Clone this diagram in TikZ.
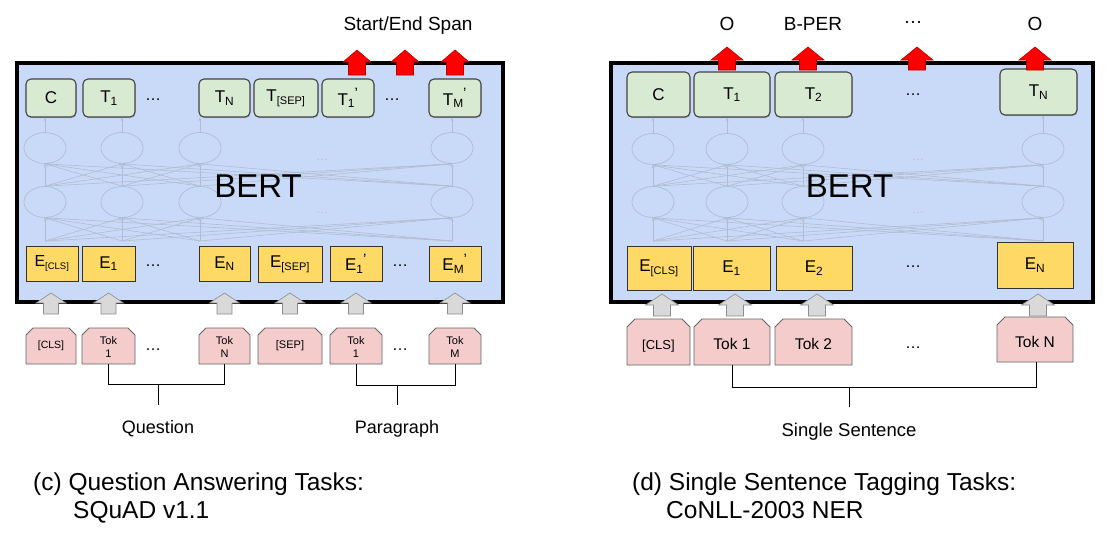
\documentclass[tikz,border=0pt]{standalone}
\usepackage{fontspec}
\setmainfont{Liberation Sans}
\usetikzlibrary{arrows.meta,shadows,shapes.geometric,calc}
\definecolor{bertblue}{HTML}{C9DAF8}
\definecolor{tgreen}{HTML}{D9EAD3}
\definecolor{tborder}{HTML}{434343}
\definecolor{eyellow}{HTML}{FFD966}
\definecolor{eborder}{HTML}{333333}
\definecolor{tokpink}{HTML}{F4CCCC}
\definecolor{tokborder}{HTML}{666666}
\definecolor{netgray}{HTML}{B0BCD3}
\definecolor{arrgray}{HTML}{D9D9D9}
\definecolor{arrgrayb}{HTML}{8C8C8C}
\definecolor{redarrb}{HTML}{B00000}
\newcommand\fsz[1]{\fontsize{#1}{#1}\selectfont}
\newcommand\sbx[2]{\textsubscript{\fsz{#1}#2}}
\newcommand\prm{\kern-0.5pt\textsuperscript{\fsz{15}’}}
\newcommand\tokshape[5]{%
  \filldraw[tokstyle] ({#1-#3/2},{#2+#4/2}) -- ({#1-#3/2},{#2-#4/2+#5}) -- ({#1-#3/2+#5},{#2-#4/2}) -- ({#1+#3/2-#5},{#2-#4/2}) -- ({#1+#3/2},{#2-#4/2+#5}) -- ({#1+#3/2},{#2+#4/2}) -- cycle;}
\begin{document}
\begin{tikzpicture}[x=1pt,y=-1pt,
  bertbox/.style={draw=black, line width=3.5pt, fill=bertblue, inner sep=0},
  bertlabel/.style={font=\fsz{33}, inner sep=0, anchor=base},
  tbox/.style={draw=tborder, fill=tgreen, line width=1.1pt, rounded corners=5pt, inner sep=0, font=\fsz{17},
    drop shadow={shadow xshift=0.6pt, shadow yshift=-1.2pt, fill=black!45}},
  ebox/.style={draw=eborder, fill=eyellow, line width=0.9pt, inner sep=0, font=\fsz{17}},
  tokstyle/.style={fill=tokpink, draw=tokborder, line width=0.9pt},
  toklabel/.style={inner sep=0, align=center},
  neuron/.style={ellipse, draw=netgray, line width=0.7pt, minimum width=42, minimum height=31, inner sep=0},
  net/.style={draw=netgray, line width=0.6pt, -{Stealth[length=3.5pt,width=3pt]}},
  netdots/.style={font=\fsz{12}, text=netgray, inner sep=0},
  dots/.style={font=\fsz{16}, inner sep=0},
  lbl/.style={font=\fsz{18.5}, inner sep=0, anchor=base},
  caption/.style={font=\fsz{24.5}, inner sep=0, anchor=base west},
  bracket/.style={draw=black, line width=0.8pt},
  redup/.pic={\filldraw[fill=red, draw=redarrb, line width=0.6pt] (0,0) -- (14,12) -- (8.5,12) -- (8.5,25) -- (-8.5,25) -- (-8.5,12) -- (-14,12) -- cycle;},
  redupR/.pic={\filldraw[fill=red, draw=redarrb, line width=0.6pt] (0,0) -- (16,13) -- (8.5,13) -- (8.5,23) -- (-8.5,23) -- (-8.5,13) -- (-16,13) -- cycle;},
  grayup/.pic={\filldraw[fill=arrgray, draw=arrgrayb, line width=0.6pt] (0,0) -- (15,10) -- (7.5,10) -- (7.5,21) -- (-7.5,21) -- (-7.5,10) -- (-15,10) -- cycle;},
  grayupR/.pic={\filldraw[fill=arrgray, draw=arrgrayb, line width=0.6pt] (0,0) -- (16.5,11) -- (8.5,11) -- (8.5,22) -- (-8.5,22) -- (-8.5,11) -- (-16.5,11) -- cycle;}
]
\fill[white] (0,0) rectangle (1117,550);
\useasboundingbox (0,0) rectangle (1117,550);

%% ================= LEFT PANEL (c) =================
\node[bertbox, minimum width=486, minimum height=239] (qbert) at (260,182.5) {};

% network
\foreach \i/\x in {1/45,2/122,3/200,4/452} {
  \node[neuron] (qu\i) at (\x,148) {};
  \node[neuron] (ql\i) at (\x,202) {};
  \coordinate (qb\i) at (\x,241);
}
\foreach \i in {1,...,4} {
  \foreach \j in {1,...,4} {
    \draw[net] (qb\i) -- (ql\j.south);
    \draw[net] (ql\i.north) -- (qu\j.south);
  }
}
\node[netdots] (qnd1) at (322,160) {…};
\node[netdots] (qnd2) at (322,213) {…};
\node[bertlabel] (qbertl) at (258,197) {BERT};

% T boxes
\node[tbox, minimum width=50, minimum height=38] (qC) at (51,98) {C};
\node[tbox, minimum width=52, minimum height=38] (qT1) at (109,98) {T\textsubscript{1}};
\node[dots] (qTd1) at (153,100) {…};
\node[tbox, minimum width=51, minimum height=38] (qTN) at (224.5,98) {T\textsubscript{N}};
\node[tbox, minimum width=64, minimum height=38] (qTsep) at (286,98) {T\sbx{11}{[SEP]}};
\node[tbox, minimum width=52, minimum height=38] (qT1p) at (348,98) {T\textsubscript{1}\prm};
\node[dots] (qTd2) at (392,100) {…};
\node[tbox, minimum width=52, minimum height=38] (qTMp) at (455,98) {T\textsubscript{M}\prm};

\draw[net] (qu1.north) -- (qu1.north |- qC.south);
\draw[net] (qu2.north) -- (qu2.north |- qT1.south);
\draw[net] (qu3.north) -- (qu3.north |- qTN.south);
\draw[net] (qu4.north) -- (qu4.north |- qTMp.south);

% E boxes
\node[ebox, minimum width=52, minimum height=35] (qEcls) at (52,263.5) {\fsz{16}E\sbx{9.5}{[CLS]}};
\node[ebox, minimum width=53, minimum height=35] (qE1) at (108.5,263.5) {E\textsubscript{1}};
\node[dots] (qEd1) at (153,266) {…};
\node[ebox, minimum width=51, minimum height=35] (qEN) at (224.5,263.5) {E\textsubscript{N}};
\node[ebox, minimum width=64, minimum height=36] (qEsep) at (290,264) {E\sbx{11}{[SEP]}};
\node[ebox, minimum width=52, minimum height=35] (qE1p) at (356,263.5) {E\textsubscript{1}\prm};
\node[dots] (qEd2) at (400,266) {…};
\node[ebox, minimum width=52, minimum height=35] (qEMp) at (455,263.5) {E\textsubscript{M}\prm};

% red output arrows
\pic at (357,50) {redup};
\pic at (405,50) {redup};
\pic at (455,50) {redup};
\node[lbl, font=\fsz{19}] (qspan) at (408,30) {Start/End Span};

% token boxes
\tokshape{51}{346}{50}{36}{7}
\node[toklabel, font=\fsz{10.5}] (qKcls) at (51,346) {[CLS]};
\tokshape{108.5}{346}{53}{36}{7}
\node[toklabel, font=\fontsize{11}{13}\selectfont] (qK1) at (108.5,347) {Tok\\1};
\node[dots] (qKd1) at (153,350) {…};
\tokshape{224.5}{346}{51}{36}{7}
\node[toklabel, font=\fontsize{11}{13}\selectfont] (qKN) at (224.5,347) {Tok\\N};
\tokshape{290}{346}{64}{36}{7}
\node[toklabel, font=\fsz{11}] (qKsep) at (290,346) {[SEP]};
\tokshape{356}{346}{52}{36}{7}
\node[toklabel, font=\fontsize{11}{13}\selectfont] (qK1p) at (356,347) {Tok\\1};
\node[dots] (qKd2) at (400,350) {…};
\tokshape{455}{346}{52}{36}{7}
\node[toklabel, font=\fontsize{11}{13}\selectfont] (qKM) at (455,347) {Tok\\M};

% gray input arrows
\foreach \n in {qKcls,qK1,qKN,qKsep,qK1p,qKM} { \pic at (\n |- 0,293) {grayup}; }

% brackets
\coordinate (qQm) at (158,384);
\coordinate (qQe) at (158,405);
\draw[bracket] (108.5,364) -- (108.5,384) -- (224.5,384) -- (224.5,364);
\draw[bracket] (qQm) -- (qQe);
\node[lbl, font=\fsz{18}] (qQ) at (158,433) {Question};
\coordinate (qPm) at (397,385);
\coordinate (qPe) at (397,405);
\draw[bracket] (356,364) -- (356,385) -- (455,385) -- (455,364);
\draw[bracket] (qPm) -- (qPe);
\node[lbl, font=\fsz{18}] (qP) at (397,433) {Paragraph};

% caption
\node[caption] (qcap1) at (33,490) {(c) Question Answering Tasks:};
\node[caption] (qcap2) at (73,518) {SQuAD v1.1};

%% ================= RIGHT PANEL (d) =================
\node[bertbox, minimum width=482, minimum height=239] (sbert) at (852,182.5) {};

\foreach \i/\x in {1/653,2/727,3/803,4/1043} {
  \node[neuron] (su\i) at (\x,149) {};
  \node[neuron] (sl\i) at (\x,202) {};
  \coordinate (sb\i) at (\x,241);
}
\foreach \i in {1,...,4} {
  \foreach \j in {1,...,4} {
    \draw[net] (sb\i) -- (sl\j.south);
    \draw[net] (sl\i.north) -- (su\j.south);
  }
}
\node[netdots] (snd1) at (918,160) {…};
\node[netdots] (snd2) at (918,213) {…};
\node[bertlabel] (sbertl) at (849.5,197) {BERT};

\node[tbox, minimum width=63, minimum height=45] (sC) at (658.5,94.5) {C};
\node[tbox, minimum width=76, minimum height=45] (sT1) at (732,94.5) {T\textsubscript{1}};
\node[tbox, minimum width=77, minimum height=45] (sT2) at (813.5,94.5) {T\textsubscript{2}};
\node[dots] (sTd) at (913,95) {…};
\node[tbox, minimum width=77, minimum height=46] (sTN) at (1038.5,92) {T\textsubscript{N}};

\draw[net] (su1.north) -- (su1.north |- sC.south);
\draw[net] (su2.north) -- (su2.north |- sT1.south);
\draw[net] (su3.north) -- (su3.north |- sT2.south);
\draw[net] (su4.north) -- (su4.north |- sTN.south);

\node[ebox, minimum width=64, minimum height=44] (sEcls) at (659,268) {E\sbx{11}{[CLS]}};
\node[ebox, minimum width=77, minimum height=44] (sE1) at (731.5,268) {E\textsubscript{1}};
\node[ebox, minimum width=76, minimum height=44] (sE2) at (814,268) {E\textsubscript{2}};
\node[dots] (sEd) at (913,267) {…};
\node[ebox, minimum width=76, minimum height=46] (sEN) at (1035,265) {E\textsubscript{N}};

\pic at (727,47) {redupR};
\pic at (808,47) {redupR};
\pic at (917,47) {redupR};
\pic at (1035,47) {redupR};
\node[lbl, font=\fsz{19}] (so1) at (727,30) {O};
\node[lbl, font=\fsz{19}] (sbper) at (813,30) {B-PER};
\node[lbl, font=\fsz{19}] (sodots) at (913,23) {…};
\node[lbl, font=\fsz{19}] (so2) at (1035,30) {O};

\tokshape{658.5}{342}{63}{46}{8}
\node[toklabel, font=\fsz{13}] (sKcls) at (658.5,346) {[CLS]};
\tokshape{732}{342}{76}{46}{8}
\node[toklabel, font=\fsz{15.5}] (sK1) at (732,344) {Tok 1};
\tokshape{813.5}{342}{77}{46}{8}
\node[toklabel, font=\fsz{15.5}] (sK2) at (813.5,344) {Tok 2};
\node[dots] (sKd) at (913,348) {…};
\tokshape{1035}{339.5}{76}{45}{8}
\node[toklabel, font=\fsz{15.5}] (sKN) at (1035,342) {Tok N};

\pic at (662,294) {grayupR};
\pic at (735,294) {grayupR};
\pic at (817,294) {grayupR};
\pic at (1038,294) {grayupR};

\coordinate (sSm) at (849,387);
\coordinate (sSe) at (849,407);
\draw[bracket] (732,365) -- (732,387) -- (1036,387) -- (1036,362);
\draw[bracket] (sSm) -- (sSe);
\node[lbl, font=\fsz{18.5}] (sS) at (849,436) {Single Sentence};

\node[caption] (scap1) at (632,490) {(d) Single Sentence Tagging Tasks:};
\node[caption] (scap2) at (666,518) {CoNLL-2003 NER};
\end{tikzpicture}
\end{document}
